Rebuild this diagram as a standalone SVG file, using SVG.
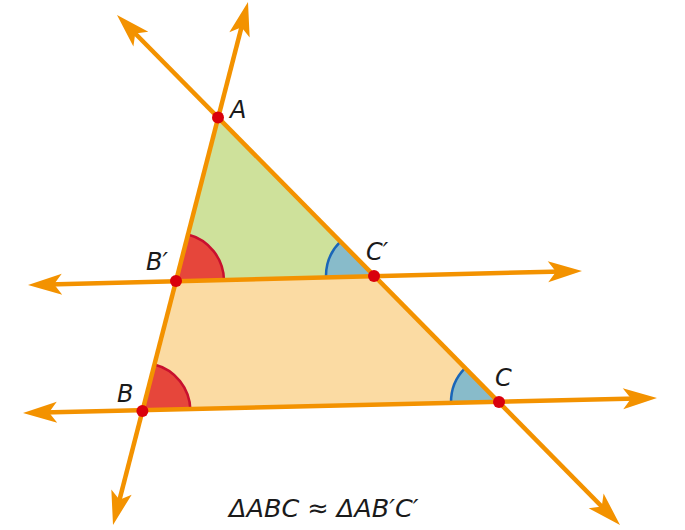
<svg xmlns="http://www.w3.org/2000/svg" width="685" height="530" viewBox="0 0 685 530">
<style>
.ln{stroke:#F39200;stroke-width:4.5;fill:none;marker-start:url(#ah);marker-end:url(#ah)}
.dot{fill:#D9000D}
.lbl{font-family:"DejaVu Sans",Verdana,sans-serif;font-style:italic;font-size:24px;fill:#1a1a1a}
.eq{font-family:"DejaVu Sans",Verdana,sans-serif;font-style:italic;font-size:25.5px;fill:#1a1a1a}
.red{fill:#E6463B}
.redarc{fill:none;stroke:#C8102E;stroke-width:2.5}
.blue{fill:#88BBCA}
.bluearc{fill:none;stroke:#1A66B8;stroke-width:2.5}
</style>
<defs>
<marker id="ah" markerUnits="userSpaceOnUse" viewBox="-16 -12 38 24" refX="0" refY="0" markerWidth="38" markerHeight="24" orient="auto-start-reverse">
<path d="M20,0 L-14,-10.5 L-6,0 L-14,10.5 Z" fill="#F39200"/>
</marker>
</defs>
<g id="regions">
<polygon points="218,117.5 176,281 374,276" fill="#CEE19B"/>
<polygon points="176,281 374,276 499,402 142.4,411" fill="#FBDBA3"/>
</g>
<g id="angles">
<path class="red" d="M176,281 L223.98,279.79 A48,48 0 0 0 187.98,234.51 Z"/>
<path class="redarc" d="M223.98,279.79 A48,48 0 0 0 187.98,234.51"/>
<path class="red" d="M142.4,411 L190.38,409.79 A48,48 0 0 0 154.41,364.53 Z"/>
<path class="redarc" d="M190.38,409.79 A48,48 0 0 0 154.41,364.53"/>
<path class="blue" d="M374,276 L326.02,277.21 A48,48 0 0 1 340.38,241.73 Z"/>
<path class="bluearc" d="M326.02,277.21 A48,48 0 0 1 340.38,241.73"/>
<path class="blue" d="M499,402 L451.02,403.21 A48,48 0 0 1 465.3,367.82 Z"/>
<path class="bluearc" d="M451.02,403.21 A48,48 0 0 1 465.3,367.82"/>
</g>
<g id="connectors">
<line class="ln" x1="118" y1="505.6" x2="243" y2="21.4"/>
<line class="ln" x1="131.04" y1="29.24" x2="605.96" y2="510.76"/>
<line class="ln" x1="48" y1="284.5" x2="562" y2="271.5"/>
<line class="ln" x1="43" y1="412.53" x2="637" y2="398.47"/>
</g>
<g id="A"><circle class="dot" cx="218" cy="117.5" r="6"/><text class="lbl" x="230" y="118">A</text></g>
<g id="Bp"><circle class="dot" cx="176" cy="281" r="6"/><text class="lbl" x="146" y="270">B′</text></g>
<g id="Cp"><circle class="dot" cx="374" cy="276" r="6"/><text class="lbl" x="366" y="260">C′</text></g>
<g id="B"><circle class="dot" cx="142.4" cy="411" r="6"/><text class="lbl" x="117" y="402">B</text></g>
<g id="C"><circle class="dot" cx="499" cy="402" r="6"/><text class="lbl" x="495" y="386">C</text></g>
<text class="eq" x="229" y="517">ΔABC ≈ ΔAB′C′</text>
</svg>
